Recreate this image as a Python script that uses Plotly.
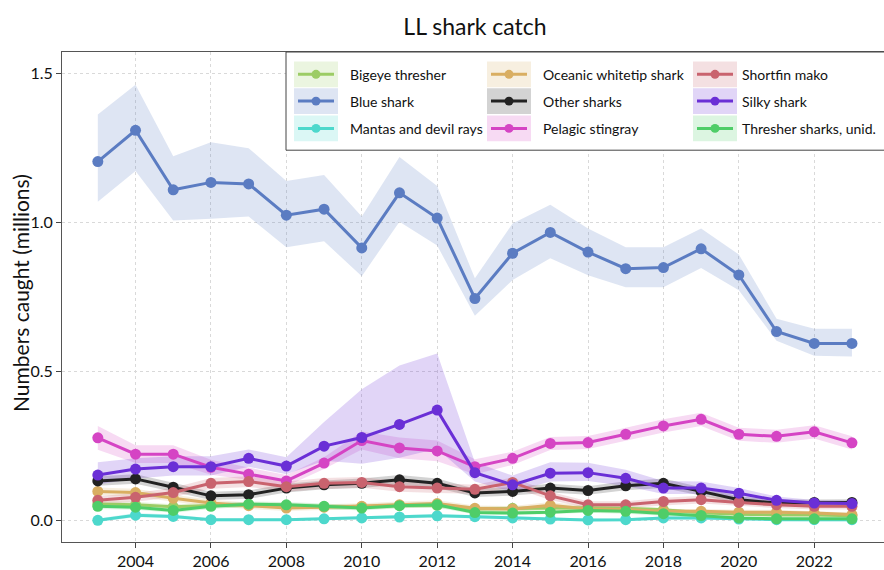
import plotly.graph_objects as go

years = [2003, 2004, 2005, 2006, 2007, 2008, 2009, 2010, 2011, 2012, 2013,
         2014, 2015, 2016, 2017, 2018, 2019, 2020, 2021, 2022, 2023]

names = ["Bigeye thresher", "Blue shark", "Mantas and devil rays",
         "Oceanic whitetip shark", "Other sharks", "Pelagic stingray",
         "Shortfin mako", "Silky shark", "Thresher sharks, unid."]
colors = ["#9ccc65", "#5b7cc2", "#4dd8cc", "#d9ae62", "#222222",
          "#d544c4", "#c9636e", "#6a2fd6", "#4fcd68"]

bigeye = [0.055, 0.052, 0.045, 0.050, 0.052, 0.050, 0.045, 0.045, 0.050, 0.050, 0.038,
          0.040, 0.042, 0.042, 0.040, 0.035, 0.025, 0.020, 0.018, 0.018, 0.015]
bigeye_lo = [0.045, 0.042, 0.036, 0.041, 0.043, 0.041, 0.036, 0.036, 0.041, 0.041, 0.030,
             0.032, 0.034, 0.034, 0.032, 0.028, 0.019, 0.015, 0.013, 0.013, 0.010]
bigeye_hi = [0.065, 0.062, 0.054, 0.059, 0.061, 0.059, 0.054, 0.054, 0.059, 0.059, 0.046,
             0.048, 0.050, 0.050, 0.048, 0.042, 0.031, 0.025, 0.023, 0.023, 0.020]

blue = [1.205, 1.310, 1.110, 1.135, 1.130, 1.025, 1.045, 0.915, 1.100, 1.015, 0.745,
        0.897, 0.967, 0.901, 0.845, 0.849, 0.912, 0.824, 0.634, 0.594, 0.594]
blue_lo = [1.070, 1.173, 1.007, 1.013, 1.020, 0.917, 0.937, 0.820, 1.003, 0.923, 0.687,
           0.807, 0.880, 0.823, 0.783, 0.783, 0.847, 0.773, 0.603, 0.553, 0.550]
blue_hi = [1.363, 1.463, 1.223, 1.270, 1.250, 1.140, 1.160, 1.020, 1.220, 1.123, 0.813,
           0.997, 1.060, 0.980, 0.917, 0.917, 0.980, 0.893, 0.677, 0.643, 0.643]

mantas = [0.000, 0.017, 0.013, 0.002, 0.002, 0.002, 0.005, 0.008, 0.011, 0.015, 0.012,
          0.008, 0.004, 0.001, 0.002, 0.008, 0.008, 0.004, 0.002, 0.002, 0.002]
mantas_lo = [-0.006, 0.010, 0.007, -0.003, -0.003, -0.003, 0.000, 0.003, 0.005, 0.009, 0.006,
             0.003, -0.001, -0.004, -0.003, 0.003, 0.003, -0.001, -0.003, -0.003, -0.003]
mantas_hi = [0.006, 0.024, 0.019, 0.007, 0.007, 0.007, 0.010, 0.013, 0.017, 0.021, 0.018,
             0.013, 0.009, 0.006, 0.007, 0.013, 0.013, 0.009, 0.007, 0.007, 0.007]

oceanic = [0.097, 0.093, 0.074, 0.058, 0.049, 0.041, 0.044, 0.047, 0.052, 0.056, 0.040,
           0.038, 0.050, 0.038, 0.036, 0.030, 0.030, 0.027, 0.027, 0.024, 0.019]
oceanic_lo = [0.084, 0.080, 0.062, 0.047, 0.038, 0.031, 0.034, 0.037, 0.041, 0.045, 0.030,
              0.028, 0.039, 0.028, 0.027, 0.022, 0.022, 0.019, 0.019, 0.017, 0.013]
oceanic_hi = [0.110, 0.106, 0.086, 0.069, 0.060, 0.051, 0.054, 0.057, 0.063, 0.067, 0.050,
              0.048, 0.061, 0.048, 0.045, 0.038, 0.038, 0.035, 0.035, 0.031, 0.025]

other = [0.132, 0.139, 0.111, 0.082, 0.086, 0.108, 0.119, 0.124, 0.136, 0.124, 0.092,
         0.097, 0.108, 0.100, 0.116, 0.124, 0.097, 0.069, 0.058, 0.060, 0.060]
other_lo = [0.116, 0.123, 0.096, 0.068, 0.072, 0.093, 0.104, 0.108, 0.120, 0.108, 0.078,
            0.083, 0.093, 0.086, 0.101, 0.108, 0.083, 0.057, 0.047, 0.049, 0.049]
other_hi = [0.148, 0.155, 0.126, 0.096, 0.100, 0.123, 0.134, 0.140, 0.152, 0.140, 0.106,
            0.111, 0.123, 0.114, 0.131, 0.140, 0.111, 0.081, 0.069, 0.071, 0.071]

stingray = [0.277, 0.222, 0.222, 0.178, 0.155, 0.132, 0.192, 0.268, 0.243, 0.233, 0.180,
            0.208, 0.258, 0.261, 0.289, 0.317, 0.339, 0.289, 0.282, 0.297, 0.260]
stingray_lo = [0.237, 0.192, 0.192, 0.153, 0.135, 0.114, 0.172, 0.238, 0.208, 0.198, 0.155,
               0.186, 0.236, 0.239, 0.267, 0.295, 0.317, 0.267, 0.260, 0.275, 0.238]
stingray_hi = [0.317, 0.252, 0.252, 0.203, 0.177, 0.152, 0.212, 0.298, 0.278, 0.268, 0.205,
               0.230, 0.280, 0.283, 0.311, 0.339, 0.361, 0.311, 0.304, 0.319, 0.282]

mako = [0.067, 0.077, 0.093, 0.124, 0.130, 0.113, 0.124, 0.127, 0.113, 0.108, 0.104,
        0.127, 0.082, 0.052, 0.052, 0.063, 0.069, 0.060, 0.052, 0.047, 0.047]
mako_lo = [0.053, 0.062, 0.077, 0.106, 0.112, 0.096, 0.106, 0.109, 0.096, 0.092, 0.089,
           0.110, 0.068, 0.040, 0.040, 0.050, 0.056, 0.048, 0.041, 0.036, 0.036]
mako_hi = [0.081, 0.092, 0.109, 0.142, 0.148, 0.130, 0.142, 0.145, 0.130, 0.124, 0.119,
           0.144, 0.096, 0.064, 0.064, 0.076, 0.082, 0.072, 0.063, 0.058, 0.058]

silky = [0.152, 0.172, 0.180, 0.180, 0.208, 0.182, 0.249, 0.278, 0.322, 0.370, 0.160,
         0.119, 0.158, 0.160, 0.141, 0.108, 0.108, 0.091, 0.067, 0.058, 0.056]
silky_lo = [0.120, 0.140, 0.150, 0.150, 0.180, 0.155, 0.200, 0.190, 0.210, 0.240, 0.130,
            0.095, 0.130, 0.132, 0.115, 0.088, 0.088, 0.075, 0.055, 0.048, 0.046]
silky_hi = [0.195, 0.208, 0.215, 0.215, 0.238, 0.212, 0.330, 0.440, 0.520, 0.560, 0.195,
            0.150, 0.195, 0.193, 0.170, 0.132, 0.130, 0.108, 0.080, 0.068, 0.066]

thresher = [0.047, 0.044, 0.033, 0.047, 0.054, 0.052, 0.047, 0.041, 0.049, 0.052, 0.026,
            0.024, 0.027, 0.033, 0.030, 0.022, 0.016, 0.008, 0.005, 0.005, 0.005]
thresher_lo = [0.038, 0.035, 0.025, 0.038, 0.045, 0.043, 0.038, 0.033, 0.040, 0.043, 0.019,
               0.017, 0.020, 0.025, 0.022, 0.015, 0.010, 0.003, 0.000, 0.000, 0.000]
thresher_hi = [0.056, 0.053, 0.041, 0.056, 0.063, 0.061, 0.056, 0.049, 0.058, 0.061, 0.033,
               0.031, 0.034, 0.041, 0.038, 0.029, 0.022, 0.013, 0.010, 0.010, 0.010]

series = [bigeye, blue, mantas, oceanic, other, stingray, mako, silky, thresher]
lows = [bigeye_lo, blue_lo, mantas_lo, oceanic_lo, other_lo, stingray_lo, mako_lo, silky_lo, thresher_lo]
highs = [bigeye_hi, blue_hi, mantas_hi, oceanic_hi, other_hi, stingray_hi, mako_hi, silky_hi, thresher_hi]

y_ticks = [0.0, 0.5, 1.0, 1.5]
y_tick_labels = ["0.0", "0.5", "1.0", "1.5"]
x_ticks = [2004, 2006, 2008, 2010, 2012, 2014, 2016, 2018, 2020, 2022]


def rgba(hexc, a):
    h = hexc.lstrip("#")
    r, g, b = int(h[0:2], 16), int(h[2:4], 16), int(h[4:6], 16)
    return f"rgba({r},{g},{b},{a})"


FONT = "Lato"
fig = go.Figure()

# ribbons
for name, col, lo, hi in zip(names, colors, lows, highs):
    fig.add_trace(go.Scatter(
        x=years + years[::-1], y=hi + lo[::-1], fill="toself",
        fillcolor=rgba(col, 0.2), line=dict(width=0), mode="lines",
        hoverinfo="skip", showlegend=False))

# lines + points
for name, col, vals in zip(names, colors, series):
    fig.add_trace(go.Scatter(
        x=years, y=vals, mode="lines+markers", name=name,
        line=dict(color=col, width=3), marker=dict(color=col, size=11),
        showlegend=False))

# pixel geometry of the plot panel
L, R, T, B = 62, 884, 52, 546
W, H = R - L, B - T


def px_x(p):
    return (p - L) / W


def px_y(p):
    return (B - p) / H


shapes = []
annotations = []
# legend frame
shapes.append(dict(type="rect", xref="paper", yref="paper",
                   x0=px_x(286), x1=px_x(890), y0=px_y(151), y1=px_y(52),
                   fillcolor="white", line=dict(color="#444", width=1)))
col_shade_x = [294, 487, 693]
col_text_x = [348, 541, 740]
row_y = [74.5, 101.5, 129]
for i, (name, col) in enumerate(zip(names, colors)):
    c, r = i // 3, i % 3
    sx0 = col_shade_x[c]
    sx1 = sx0 + 44
    cy = row_y[r]
    shapes.append(dict(type="rect", xref="paper", yref="paper",
                       x0=px_x(sx0), x1=px_x(sx1), y0=px_y(cy + 13), y1=px_y(cy - 13),
                       fillcolor=rgba(col, 0.2), line=dict(width=0)))
    shapes.append(dict(type="line", xref="paper", yref="paper",
                       x0=px_x(sx0 + 4), x1=px_x(sx1 - 4), y0=px_y(cy), y1=px_y(cy),
                       line=dict(color=col, width=3)))
    mx = (sx0 + sx1) / 2
    shapes.append(dict(type="circle", xref="paper", yref="paper",
                       x0=px_x(mx - 4.5), x1=px_x(mx + 4.5),
                       y0=px_y(cy + 4.5), y1=px_y(cy - 4.5),
                       fillcolor=col, line=dict(color=col, width=0)))
    annotations.append(dict(x=px_x(col_text_x[c]), y=px_y(cy), xref="paper", yref="paper",
                            text=name, showarrow=False, xanchor="left", yanchor="middle",
                            font=dict(family=FONT, size=14, color="#111")))

# y-axis title
annotations.append(dict(x=px_x(20), y=px_y(295), xref="paper", yref="paper",
                        text="Numbers caught (millions)", showarrow=False, textangle=-90,
                        xanchor="center", yanchor="middle",
                        font=dict(family=FONT, size=21, color="#111")))

fig.update_layout(
    width=884, height=570,
    margin=dict(l=L, r=884 - R, t=T, b=570 - B),
    paper_bgcolor="white", plot_bgcolor="white",
    title=dict(text="LL shark catch", x=475 / 884, xanchor="center",
               y=1 - 27 / 570, yanchor="middle",
               font=dict(family=FONT, size=23, color="#111")),
    font=dict(family=FONT, color="#111"),
    showlegend=False,
    shapes=shapes,
    annotations=annotations,
)
fig.update_xaxes(
    range=[2002.05, 2023.85], tickvals=x_ticks, ticks="outside", ticklen=5,
    tickcolor="#444", showline=True, linecolor="#555", linewidth=1, mirror=True,
    showgrid=True, gridcolor="#d9d9d9", griddash="dot", gridwidth=1,
    zeroline=False, tickfont=dict(family=FONT, size=16, color="#111"))
fig.update_yaxes(
    range=[-0.073, 1.573], tickvals=y_ticks, ticktext=y_tick_labels, ticks="outside",
    ticklen=5, tickcolor="#444", showline=True, linecolor="#555", linewidth=1,
    showgrid=True, gridcolor="#d9d9d9", griddash="dot", gridwidth=1, zeroline=False,
    tickfont=dict(family=FONT, size=16, color="#111"))

fig.write_html("out.html")
